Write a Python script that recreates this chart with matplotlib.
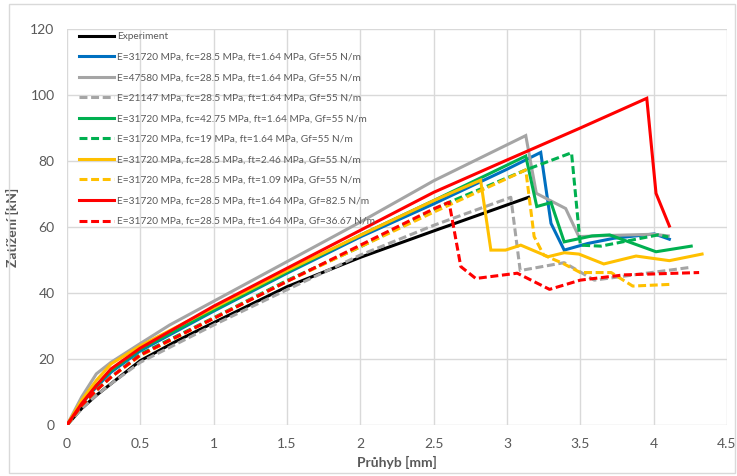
import matplotlib
matplotlib.use("Agg")
import matplotlib.pyplot as plt
from matplotlib.patches import Rectangle

# Load–deflection curves: deflection [mm] and load [kN]
exp_x = [0, 0.1, 0.2, 0.3, 0.5, 0.75, 1.0, 1.5, 2.0, 2.5, 3.147]
exp_y = [0, 5.0, 9.0, 12.5, 19.5, 25.5, 31.0, 41.9, 50.8, 58.8, 69.0]

base_x = [0, 0.1, 0.2, 0.3, 0.5, 1.0, 1.5, 2.0, 2.5, 3.0, 3.23, 3.30, 3.39, 3.55, 3.73, 4.005, 4.107]
base_y = [0, 6.5, 11.5, 16.0, 22.5, 34.5, 46.0, 57.0, 67.0, 77.5, 82.6, 61.1, 53.0, 55.0, 56.6, 57.9, 56.3]

e_hi_x = [0, 0.1, 0.2, 0.3, 0.5, 0.7, 1.0, 1.5, 2.0, 2.5, 3.128, 3.20, 3.40, 3.49, 3.75, 4.0, 4.10]
e_hi_y = [0, 8.5, 15.5, 19.0, 24.7, 30.3, 37.5, 49.5, 61.5, 74.0, 87.7, 70.2, 65.6, 57.1, 57.5, 57.8, 57.3]

e_lo_x = [0, 0.1, 0.2, 0.3, 0.5, 1.0, 1.5, 2.0, 2.5, 3.026, 3.09, 3.39, 3.595, 4.256]
e_lo_y = [0, 5.0, 9.0, 12.5, 19.0, 30.3, 41.0, 51.5, 60.5, 69.0, 46.8, 49.2, 43.9, 47.8]

fc_hi_x = [0, 0.1, 0.2, 0.3, 0.5, 1.0, 1.5, 2.0, 2.5, 3.128, 3.203, 3.30, 3.39, 3.58, 3.70, 4.016, 4.256]
fc_hi_y = [0, 6.5, 12.0, 16.5, 23.0, 34.8, 46.3, 57.5, 68.0, 81.5, 66.2, 67.4, 55.5, 57.3, 57.6, 52.5, 54.2]

fc_lo_x = [0, 0.1, 0.2, 0.3, 0.5, 1.0, 1.5, 2.0, 2.59, 3.128, 3.44, 3.50, 3.64, 4.03, 4.10]
fc_lo_y = [0, 6.0, 10.5, 14.5, 21.5, 32.5, 43.8, 54.0, 67.2, 77.3, 82.5, 54.5, 54.2, 57.6, 57.0]

ft_hi_x = [0, 0.1, 0.2, 0.3, 0.5, 1.0, 1.5, 2.0, 2.5, 2.82, 2.89, 2.99, 3.094, 3.28, 3.39, 3.49, 3.66, 3.88, 4.107, 4.33]
ft_hi_y = [0, 7.5, 13.5, 18.5, 24.0, 35.5, 46.8, 57.5, 68.0, 74.2, 53.0, 53.0, 54.5, 51.0, 52.2, 51.8, 48.8, 51.2, 49.8, 51.8]

ft_lo_x = [0, 0.1, 0.2, 0.3, 0.5, 1.0, 1.5, 2.0, 2.5, 3.128, 3.185, 3.25, 3.38, 3.50, 3.71, 3.857, 4.107]
ft_lo_y = [0, 6.0, 10.5, 14.5, 21.0, 32.3, 43.5, 54.0, 64.5, 77.3, 57.1, 51.5, 49.0, 46.2, 46.2, 42.1, 42.6]

gf_hi_x = [0, 0.1, 0.2, 0.3, 0.5, 1.0, 1.5, 2.0, 2.5, 3.0, 3.5, 3.953, 4.016, 4.107]
gf_hi_y = [0, 6.5, 12.0, 17.0, 23.3, 36.0, 47.5, 59.0, 70.5, 80.3, 90.0, 99.0, 70.2, 60.3]

gf_lo_x = [0, 0.1, 0.2, 0.3, 0.5, 1.0, 1.5, 2.0, 2.5, 2.605, 2.685, 2.787, 3.07, 3.29, 3.5, 3.8, 4.31]
gf_lo_y = [0, 6.0, 10.5, 14.5, 21.2, 32.3, 43.5, 54.5, 65.5, 67.5, 48.0, 44.4, 46.0, 41.1, 43.9, 45.5, 46.2]

labels = [
    "Experiment",
    "E=31720 MPa, fc=28.5 MPa, ft=1.64 MPa, Gf=55 N/m",
    "E=47580 MPa, fc=28.5 MPa, ft=1.64 MPa, Gf=55 N/m",
    "E=21147 MPa, fc=28.5 MPa, ft=1.64 MPa, Gf=55 N/m",
    "E=31720 MPa, fc=42.75 MPa, ft=1.64 MPa, Gf=55 N/m",
    "E=31720 MPa, fc=19 MPa, ft=1.64 MPa, Gf=55 N/m",
    "E=31720 MPa, fc=28.5 MPa, ft=2.46 MPa, Gf=55 N/m",
    "E=31720 MPa, fc=28.5 MPa, ft=1.09 MPa, Gf=55 N/m",
    "E=31720 MPa, fc=28.5 MPa, ft=1.64 MPa, Gf=82.5 N/m",
    "E=31720 MPa, fc=28.5 MPa, ft=1.64 MPa, Gf=36.67 N/m",
]

series = [
    (exp_x, exp_y, "#000000", "-"),
    (base_x, base_y, "#0070C0", "-"),
    (e_hi_x, e_hi_y, "#A5A5A5", "-"),
    (e_lo_x, e_lo_y, "#A5A5A5", "--"),
    (fc_hi_x, fc_hi_y, "#00B050", "-"),
    (fc_lo_x, fc_lo_y, "#00B050", "--"),
    (ft_hi_x, ft_hi_y, "#FFC000", "-"),
    (ft_lo_x, ft_lo_y, "#FFC000", "--"),
    (gf_hi_x, gf_hi_y, "#FF0000", "-"),
    (gf_lo_x, gf_lo_y, "#FF0000", "--"),
]

FONT = "Lato"
TXT = "#595959"
GRID = "#D9D9D9"

fig = plt.figure(figsize=(7.37, 4.76), dpi=100)
fig.patch.set_facecolor("white")
ax = fig.add_axes([67 / 737, 51 / 476, 660 / 737, 396 / 476])

for (x, y, c, ls), lab in zip(series, labels):
    line, = ax.plot(x, y, color=c, lw=2.2, label=lab, solid_joinstyle="miter")
    if ls == "--":
        line.set_dashes((2.6, 1.2))

ax.set_xlim(0, 4.5)
ax.set_ylim(0, 120)
ax.set_xticks([0, 0.5, 1, 1.5, 2, 2.5, 3, 3.5, 4, 4.5])
ax.set_xticklabels(["0", "0.5", "1", "1.5", "2", "2.5", "3", "3.5", "4", "4.5"])
ax.set_yticks(range(0, 121, 20))
ax.grid(True, color=GRID, lw=1.0)
ax.set_axisbelow(True)
for s in ax.spines.values():
    s.set_visible(False)
ax.tick_params(length=0, labelsize=10, colors=TXT, pad=9)
for t in ax.get_xticklabels() + ax.get_yticklabels():
    t.set_family(FONT)

ax.set_xlabel("Průhyb [mm]", fontsize=10, fontweight="bold", color=TXT,
              family=FONT, labelpad=5)
ax.set_ylabel("Zatížení [kN]", fontsize=10, fontweight="bold", color=TXT,
              family=FONT, labelpad=8)

leg = ax.legend(loc="upper left", bbox_to_anchor=(12 / 660, 1 - 3 / 396),
                frameon=False, borderpad=0, borderaxespad=0,
                prop={"family": FONT, "size": 7.3}, labelspacing=1.13,
                handlelength=3.5, handletextpad=0.25)
for t in leg.get_texts():
    t.set_color(TXT)

# Outer chart border
fig.patches.append(Rectangle((9 / 737, 3 / 476), 726 / 737, 469 / 476,
                             transform=fig.transFigure, fill=False,
                             edgecolor=GRID, lw=1.0))

fig.savefig("out.png", dpi=100, facecolor="white")
